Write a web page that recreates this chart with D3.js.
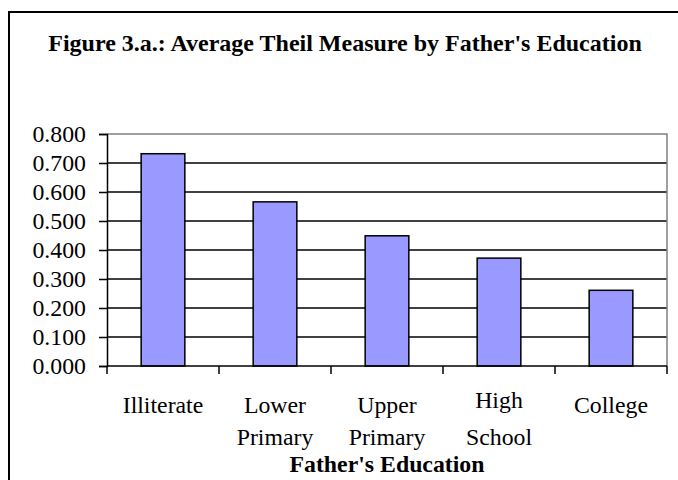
<!DOCTYPE html>
<html>
<head>
<meta charset="utf-8">
<script src="https://cdn.jsdelivr.net/npm/d3@7"></script>
<style>
  html, body { margin: 0; padding: 0; background: #fff; }
  svg { display: block; }
</style>
</head>
<body>
<script>
// Average Theil measure by father's education level
const categories = [["Illiterate"], ["Lower", "Primary"], ["Upper", "Primary"], ["High", "School"], ["College"]];
const theilValues = [0.732, 0.566, 0.449, 0.372, 0.261];
const yTicks = [0, 0.1, 0.2, 0.3, 0.4, 0.5, 0.6, 0.7, 0.8];
const titleText = "Figure 3.a.: Average Theil Measure by Father's Education";
const xAxisTitle = "Father's Education";

const SERIF = "'Liberation Serif', 'Times New Roman', Tinos, serif";
const FS = "23.8px";
const W = 678, H = 480;
const plot = { left: 107, right: 667, top: 134, bottom: 366 };

const svg = d3.select("body").append("svg").attr("width", W).attr("height", H);

// chart frame (open toward the right and bottom edges)
svg.append("rect")
  .attr("x", 9).attr("y", 12).attr("width", W + 20).attr("height", H + 20)
  .attr("fill", "#fff").attr("stroke", "#000").attr("stroke-width", 2);

svg.append("text")
  .attr("x", 345).attr("y", 51)
  .attr("text-anchor", "middle")
  .style("font-family", SERIF)
  .style("font-weight", "bold").style("font-size", "24px")
  .text(titleText);

const x = d3.scaleBand()
  .domain(categories.map((d, i) => i))
  .range([plot.left, plot.right])
  .paddingInner(0.61).paddingOuter(0.305);

const xBand = d3.scaleBand()
  .domain(categories.map((d, i) => i))
  .range([plot.left, plot.right]);

const y = d3.scaleLinear().domain([0, 0.8]).range([plot.bottom, plot.top]);

// horizontal gridlines
svg.append("g").selectAll("line")
  .data(yTicks.filter(t => t > 0 && t < 0.8))
  .join("line")
  .attr("x1", plot.left).attr("x2", plot.right)
  .attr("y1", d => y(d)).attr("y2", d => y(d))
  .attr("stroke", "#000").attr("stroke-width", 1.5);

// plot area border (top and right)
svg.append("path")
  .attr("d", `M${plot.left},${y(0.8)}H${plot.right}V${plot.bottom}`)
  .attr("fill", "none").attr("stroke", "#808080").attr("stroke-width", 1.5);

// bars
svg.append("g").selectAll("rect")
  .data(theilValues)
  .join("rect")
  .attr("x", (d, i) => x(i))
  .attr("width", x.bandwidth())
  .attr("y", d => y(d))
  .attr("height", d => y(0) - y(d))
  .attr("fill", "#9999FF")
  .attr("stroke", "#000").attr("stroke-width", 1.5);

// y axis
const yAxis = svg.append("g")
  .attr("transform", `translate(${plot.left},0)`)
  .call(d3.axisLeft(y).tickValues(yTicks).tickFormat(d3.format(".3f")).tickSize(8).tickPadding(13));
yAxis.select(".domain").attr("stroke", "#000").attr("stroke-width", 1.5);
yAxis.selectAll(".tick line").attr("stroke", "#000").attr("stroke-width", 1.5);
yAxis.selectAll(".tick text")
  .attr("fill", "#000")
  .style("font-family", SERIF).style("font-size", FS);

// x axis with tick marks at band boundaries
svg.append("line")
  .attr("x1", plot.left).attr("x2", plot.right)
  .attr("y1", plot.bottom).attr("y2", plot.bottom)
  .attr("stroke", "#000").attr("stroke-width", 1.5);
const bounds = categories.map((d, i) => xBand(i)).concat([plot.right]);
svg.append("g").selectAll("line")
  .data(bounds)
  .join("line")
  .attr("x1", d => d).attr("x2", d => d)
  .attr("y1", plot.bottom).attr("y2", plot.bottom + 8)
  .attr("stroke", "#000").attr("stroke-width", 1.5);

// category labels, one text element per line
const lineY = (i, j) => j === 0 ? (i === 3 ? 408 : 413) : 445;
categories.forEach((lines, i) => {
  svg.append("g").selectAll("text")
    .data(lines)
    .join("text")
    .attr("text-anchor", "middle")
    .attr("x", xBand(i) + xBand.bandwidth() / 2)
    .attr("y", (d, j) => lineY(i, j))
    .style("font-family", SERIF).style("font-size", FS)
    .text(d => d);
});

svg.append("text")
  .attr("x", (plot.left + plot.right) / 2).attr("y", 472)
  .attr("text-anchor", "middle")
  .style("font-family", SERIF)
  .style("font-weight", "bold").style("font-size", FS)
  .text(xAxisTitle);
</script>
</body>
</html>
